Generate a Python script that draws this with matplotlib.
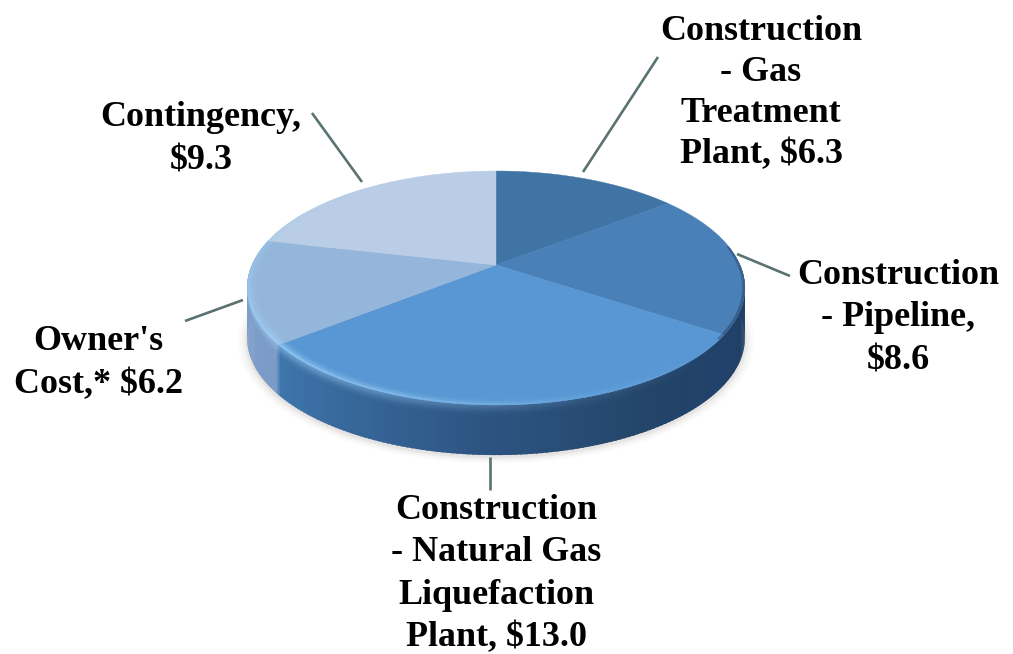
import matplotlib
matplotlib.use("Agg")
import matplotlib.pyplot as plt
import numpy as np

labels = ["Construction\n- Gas\nTreatment\nPlant, $6.3",
          "Construction\n- Pipeline,\n$8.6",
          "Construction\n- Natural Gas\nLiquefaction\nPlant, $13.0",
          "Owner's\nCost,* $6.2",
          "Contingency,\n$9.3"]
values = [6.3, 8.6, 13.0, 6.2, 9.3]
colors = ["#3f74a5", "#4a80b8", "#5897d3", "#95b6db", "#b9cde6"]

label_pos = [(761, 93), (898, 318), (496, 574), (98, 363), (201, 139)]
label_spacing = [1.33, 1.4, 1.37, 1.4, 1.44]
leaders = [((658, 57), (583, 172)), ((737, 254), (790, 276)),
           ((490, 457), (490, 490)), ((185, 321), (243, 300)),
           ((312, 113), (362, 182))]

# side wall colour, by clockwise angle from the top
side_angles = [90, 123, 150, 180, 231, 232, 283, 300]
side_cols = ["#1f3f60", "#21416a", "#234569", "#2c5380", "#3f76ad", "#7c9cc8", "#7e9fca", "#7e9fca"]
# rim highlight strength, by same angle
rim_angles = [130, 165, 200, 231, 260, 290, 320]
rim_amount = [0.0, 0.2, 0.6, 0.8, 0.5, 0.25, 0.0]
HIGHLIGHT = "#9fd0f7"

CX, CY = 496, 265
A, B, K = 244, 112.5, 0.197
DEPTH = 50


def project(theta, r=1.0):
    # clockwise degrees from the top -> pixel position, with perspective
    t = np.radians(theta)
    u, v = r*np.sin(t), r*np.cos(t)
    d = 1 + K*v
    return CX + A*u/d, CY - B*v/d


def to_rgb(c):
    return np.array(matplotlib.colors.to_rgb(c))


def side_color(th):
    rgb = [to_rgb(c) for c in side_cols]
    return np.array([np.interp(th, side_angles, [c[i] for c in rgb]) for i in range(3)])


fig = plt.figure(figsize=(10.13, 6.54), dpi=100)
ax = fig.add_axes([0, 0, 1, 1])
ax.set_xlim(0, 1013)
ax.set_ylim(654, 0)
ax.axis("off")

# soft shadow under the pie
th = np.linspace(0, 360, 361)
for grow, alpha in [(1.035, 0.025), (1.025, 0.035), (1.015, 0.05), (1.006, 0.08)]:
    x, y = project(th, grow)
    ax.fill(x, y + DEPTH + 2, color="#7a6f6a", alpha=alpha, lw=0, zorder=1)

# side wall, with a light fade along its top edge on the lower left
hi = to_rgb(HIGHLIGHT)
for a1 in np.arange(90, 300, 1.0):
    x1, y1 = project(a1)
    x2, y2 = project(a1 + 1.5)
    c = side_color(a1 + 0.5)
    amt = np.interp(a1, rim_angles, rim_amount)
    ax.fill([x1, x2, x2, x1], [y1, y2, y2 + DEPTH, y1 + DEPTH], color=c, lw=0, zorder=2)
    for off, f in [(8, 0.05), (6, 0.12), (4, 0.25), (2, 0.4), (0, 0.55)]:
        ax.fill([x1, x2, x2, x1], [y1 + off, y2 + off, y2 + off + 2.5, y1 + off + 2.5],
                color=c + (hi - c)*amt*f, lw=0, zorder=3)

# top face
ends = np.cumsum(values) / np.sum(values) * 360
starts = np.r_[0, ends[:-1]]
for s, e, c in zip(starts, ends, colors):
    th = np.linspace(s, e, 200)
    x, y = project(th)
    ax.fill(np.r_[CX, x], np.r_[CY, y], color=c, lw=0.3, zorder=4)

# rim bevel
for s, e, col in zip(starts, ends, colors):
    base = to_rgb(col)
    for a1 in np.arange(s, e, 1.0):
        amt = np.interp(a1, rim_angles, rim_amount)
        a2 = min(a1 + 1.3, e)
        if amt > 0:
            for r1, r2, f in [(0.964, 0.976, 0.15), (0.976, 0.988, 0.45), (0.988, 1.0, 0.9)]:
                x1, y1 = project(np.array([a1, a2]), r2)
                x2, y2 = project(np.array([a2, a1]), r1)
                ax.fill(np.r_[x1, x2], np.r_[y1, y2], color=base + (hi - base)*amt*f, lw=0, zorder=5)
        if 80 <= a1 < 125:
            x1, y1 = project(np.array([a1, a2]), 1.0)
            x2, y2 = project(np.array([a2, a1]), 0.99)
            ax.fill(np.r_[x1, x2], np.r_[y1, y2], color=base*0.75, lw=0, zorder=5)

for (p, q) in leaders:
    ax.plot([p[0], q[0]], [p[1], q[1]], color="#5a7272", lw=1.9, zorder=6, solid_capstyle="butt")

for txt, (x, y), sp in zip(labels, label_pos, label_spacing):
    ax.text(x, y, txt.replace("$", r"\$"), family="Liberation Serif", weight="bold", fontsize=25.9,
            ha="center", va="center", linespacing=sp, color="black", zorder=7)

fig.savefig("out.png", dpi=100)
